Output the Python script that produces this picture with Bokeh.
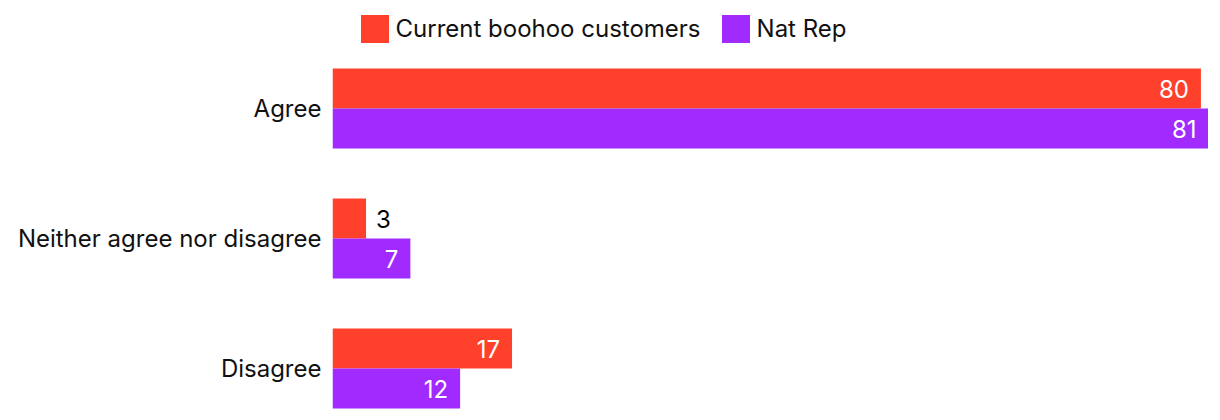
from bokeh.plotting import figure
from bokeh.models import Range1d, FixedTicker, ColumnDataSource, Legend, LegendItem
from bokeh.embed import file_html
from bokeh.resources import INLINE
from bokeh.core.properties import value

categories = ["Agree", "Neither agree nor disagree", "Disagree"]
series_names = ["Current boohoo customers", "Nat Rep"]
boohoo = [80.3, 3.1, 16.6]
natrep = [81.0, 7.2, 11.8]
colors = ["#FF412C", "#A12AFF"]

FONT = "Inter"
FS = "24px"
BAR_H = 40 / 130
DODGE = 20 / 130

p = figure(width=1208, height=412,
           x_range=Range1d(0, 81), y_range=Range1d(2 + 44 / 130, -108 / 130),
           min_border_left=332, min_border_right=0, min_border_top=0, min_border_bottom=0,
           toolbar_location=None, output_backend="svg")

renderers = []
lab_x, lab_y, lab_t, lab_c, lab_a, lab_o = [], [], [], [], [], []
for s, (vals, col, off) in enumerate(zip([boohoo, natrep], colors, [-DODGE, DODGE])):
    ys = [i + off for i in range(len(categories))]
    src = ColumnDataSource(dict(y=ys, right=vals))
    r = p.hbar(y="y", right="right", left=0, height=BAR_H, source=src,
               fill_color=col, line_color=None)
    renderers.append(r)
    for v, y in zip(vals, ys):
        lab_x.append(v)
        lab_y.append(y)
        lab_t.append(str(round(v)))
        inside = v >= 5
        lab_c.append("white" if inside else "black")
        lab_a.append("right" if inside else "left")
        lab_o.append(-12 if inside else 10)

lsrc = ColumnDataSource(dict(x=lab_x, y=lab_y, t=lab_t, c=lab_c, a=lab_a, o=lab_o))
p.text(x="x", y="y", text="t", text_color="c", text_align="a", x_offset="o",
       text_baseline="middle", text_font=value(FONT), text_font_size=FS, source=lsrc)

legend = Legend(items=[LegendItem(label=n, renderers=[r]) for n, r in zip(series_names, renderers)],
                orientation="horizontal", location=(24.5, 366.5),
                glyph_width=35, glyph_height=35, label_standoff=4, spacing=17,
                label_text_font=FONT, label_text_font_size=FS, label_text_color="#111111",
                margin=0, padding=0, border_line_color=None, background_fill_alpha=0)
p.add_layout(legend, "center")

p.xaxis.visible = False
p.yaxis.ticker = FixedTicker(ticks=list(range(len(categories))))
p.yaxis.major_label_overrides = {i: c for i, c in enumerate(categories)}
p.yaxis.axis_line_color = None
p.yaxis.major_tick_line_color = None
p.yaxis.minor_tick_line_color = None
p.yaxis.major_label_standoff = 5
p.yaxis.major_label_text_font = FONT
p.yaxis.major_label_text_font_size = FS
p.yaxis.major_label_text_color = "#111111"
p.xgrid.visible = False
p.ygrid.visible = False
p.outline_line_color = None

open("out.html", "w").write(file_html(p, INLINE))
